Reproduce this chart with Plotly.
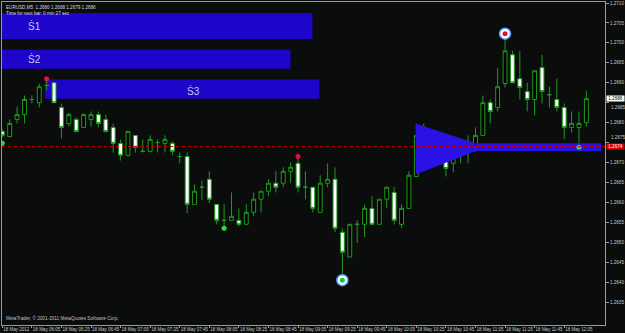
import plotly.graph_objects as go

# ---------------- data (EURUSD, M5, 18 May 2012, 05:45 .. 12:20) ----------------
bar_index = list(range(80))
opens = [1.26778, 1.26765, 1.26808, 1.26820, 1.26858, 1.26850, 1.26893, 1.26900, 1.26838, 1.26798,
         1.26808, 1.26788, 1.26808, 1.26820, 1.26808, 1.26788, 1.26748, 1.26718, 1.26768, 1.26728,
         1.26728, 1.26750, 1.26748, 1.26748, 1.26715, 1.26715, 1.26595, 1.26638, 1.26658, 1.26595,
         1.26555, 1.26555, 1.26555, 1.26545, 1.26575, 1.26608, 1.26628, 1.26648, 1.26648, 1.26678,
         1.26698, 1.26638, 1.26638, 1.26575, 1.26648, 1.26658, 1.26525, 1.26463, 1.26545, 1.26545,
         1.26585, 1.26545, 1.26608, 1.26625, 1.26545, 1.26585, 1.26665, 1.26758, 1.26768, 1.26738,
         1.26718, 1.26698, 1.26748, 1.26728, 1.26738, 1.26768, 1.26850, 1.26838, 1.26898, 1.26970,
         1.26910, 1.26878, 1.26858, 1.26938, 1.26870, 1.26858, 1.26838, 1.26788, 1.26788, 1.26800]
highs = [1.26783, 1.26808, 1.26840, 1.26868, 1.26868, 1.26898, 1.26905, 1.26900, 1.26848, 1.26825,
         1.26813, 1.26823, 1.26828, 1.26828, 1.26820, 1.26798, 1.26758, 1.26778, 1.26768, 1.26758,
         1.26768, 1.26758, 1.26768, 1.26753, 1.26725, 1.26725, 1.26645, 1.26655, 1.26678, 1.26595,
         1.26595, 1.26625, 1.26585, 1.26595, 1.26625, 1.26628, 1.26658, 1.26678, 1.26688, 1.26700,
         1.26710, 1.26678, 1.26638, 1.26668, 1.26698, 1.26688, 1.26535, 1.26545, 1.26555, 1.26595,
         1.26615, 1.26608, 1.26638, 1.26638, 1.26595, 1.26678, 1.26768, 1.26798, 1.26775, 1.26758,
         1.26738, 1.26748, 1.26758, 1.26768, 1.26788, 1.26868, 1.26858, 1.26938, 1.27010, 1.26980,
         1.26980, 1.26900, 1.26930, 1.26970, 1.26890, 1.26910, 1.26848, 1.26828, 1.26828, 1.26880]
lows = [1.26763, 1.26763, 1.26798, 1.26798, 1.26848, 1.26838, 1.26880, 1.26850, 1.26760, 1.26790,
        1.26775, 1.26788, 1.26790, 1.26788, 1.26775, 1.26725, 1.26705, 1.26715, 1.26725, 1.26725,
        1.26725, 1.26725, 1.26725, 1.26718, 1.26698, 1.26573, 1.26595, 1.26605, 1.26598, 1.26545,
        1.26540, 1.26555, 1.26540, 1.26545, 1.26565, 1.26575, 1.26615, 1.26625, 1.26638, 1.26648,
        1.26625, 1.26608, 1.26575, 1.26575, 1.26638, 1.26525, 1.26415, 1.26463, 1.26498, 1.26513,
        1.26545, 1.26545, 1.26585, 1.26545, 1.26535, 1.26585, 1.26665, 1.26725, 1.26725, 1.26698,
        1.26665, 1.26675, 1.26698, 1.26698, 1.26728, 1.26768, 1.26798, 1.26828, 1.26888, 1.26900,
        1.26858, 1.26828, 1.26818, 1.26848, 1.26838, 1.26828, 1.26758, 1.26775, 1.26745, 1.26790]
closes = [1.26768, 1.26798, 1.26820, 1.26858, 1.26858, 1.26890, 1.26893, 1.26850, 1.26788, 1.26820,
          1.26778, 1.26820, 1.26820, 1.26798, 1.26778, 1.26748, 1.26718, 1.26778, 1.26738, 1.26728,
          1.26758, 1.26750, 1.26758, 1.26728, 1.26715, 1.26595, 1.26628, 1.26638, 1.26608, 1.26555,
          1.26555, 1.26565, 1.26545, 1.26575, 1.26608, 1.26628, 1.26648, 1.26638, 1.26678, 1.26688,
          1.26638, 1.26638, 1.26585, 1.26648, 1.26658, 1.26535, 1.26475, 1.26545, 1.26545, 1.26585,
          1.26545, 1.26608, 1.26638, 1.26555, 1.26585, 1.26668, 1.26768, 1.26758, 1.26738, 1.26728,
          1.26685, 1.26738, 1.26718, 1.26738, 1.26768, 1.26850, 1.26828, 1.26890, 1.26980, 1.26900,
          1.26888, 1.26858, 1.26930, 1.26878, 1.26870, 1.26838, 1.26788, 1.26798, 1.26798, 1.26860]

time_tick_bars = [0, 4, 8, 12, 16, 20, 24, 28, 32, 36, 40, 44, 48, 52, 56, 60, 64, 68, 72, 76]
time_tick_labels = ["18 May 2012", "18 May 06:05", "18 May 06:25", "18 May 06:45", "18 May 07:05",
                    "18 May 07:25", "18 May 07:45", "18 May 08:05", "18 May 08:25", "18 May 08:45",
                    "18 May 09:05", "18 May 09:25", "18 May 09:45", "18 May 10:05", "18 May 10:25",
                    "18 May 10:45", "18 May 11:05", "18 May 11:25", "18 May 11:45", "18 May 12:05"]
price_ticks = [1.2635, 1.2640, 1.2645, 1.2650, 1.2655, 1.2660, 1.2665, 1.2670, 1.2675,
               1.2680, 1.2685, 1.2690, 1.2695, 1.2700, 1.2705, 1.2710]
# price labels that sit next to the marker boxes, drawn slightly nudged
crowded_ticks = [1.2685, 1.2675]
crowded_shift = [-5, 5]

# supply zones S1..S3
zone_names = ["Ṡ1", "Ṡ2", "Ṡ3"]
zone_x0 = [-1.0, -1.0, 5.75]
zone_x1 = [41.95, 38.99, 42.9]
zone_top = [1.27075, 1.26983, 1.26908]
zone_bottom = [1.27010, 1.26935, 1.26860]
zone_label_x = [4.3, 4.3, 25.8]
zone_label_y = [1.27043, 1.26960, 1.26880]

# converging pattern + band
pattern_x = [55.9, 64.0, 64.0, 55.9]
pattern_y = [1.26798, 1.26748, 1.26728, 1.26670]
band_x = [64.0, 80.98]
band_top = 1.26748
band_bottom = 1.26728

bid_line = 1.2674
last_price = 1.2686

fractal_high_x = [6, 40]
fractal_high_y = [1.2691, 1.26715]
fractal_low_x = [0, 30, 78]
fractal_low_y = [1.26748, 1.26535, 1.26738]
extreme_x = [46, 68]
extreme_y = [1.26405, 1.27023]
extreme_core = ["#12c83c", "#e0103c"]

# ---------------- figure ----------------
BG = "#0a0d0c"
AX = "#9a9a9a"
TXT = "#c8c8c8"
FONT = "Liberation Sans"

fig = go.Figure()

fig.add_trace(go.Scatter(x=pattern_x + [pattern_x[0]], y=pattern_y + [pattern_y[0]],
                         fill="toself", fillcolor="#2a12e6", line=dict(color="#2a12e6", width=0),
                         mode="lines", hoverinfo="skip", showlegend=False))
fig.add_trace(go.Scatter(x=[band_x[0], band_x[1], band_x[1], band_x[0], band_x[0]],
                         y=[band_top, band_top, band_bottom, band_bottom, band_top],
                         fill="toself", fillcolor="#2a12e6", line=dict(color="#2a12e6", width=0),
                         mode="lines", hoverinfo="skip", showlegend=False))

fig.add_trace(go.Candlestick(
    x=bar_index, open=opens, high=highs, low=lows, close=closes,
    increasing=dict(line=dict(color="#1f9a1f", width=1), fillcolor="#000000"),
    decreasing=dict(line=dict(color="#1f9a1f", width=1), fillcolor="#ffffff"),
    whiskerwidth=0, showlegend=False, hoverinfo="skip"))

fig.add_trace(go.Scatter(x=fractal_high_x, y=fractal_high_y, mode="markers",
                         marker=dict(color="#e8103c", size=5, symbol="circle"),
                         showlegend=False, hoverinfo="skip"))
fig.add_trace(go.Scatter(x=fractal_low_x, y=fractal_low_y, mode="markers",
                         marker=dict(color="#22dd44", size=5, symbol="circle"),
                         showlegend=False, hoverinfo="skip"))
fig.add_trace(go.Scatter(x=extreme_x, y=extreme_y, mode="markers",
                         marker=dict(color="#ffffff", size=11, symbol="circle",
                                     line=dict(color="#5a9cff", width=1.5)),
                         showlegend=False, hoverinfo="skip"))
fig.add_trace(go.Scatter(x=extreme_x, y=extreme_y, mode="markers",
                         marker=dict(color=extreme_core, size=5, symbol="circle"),
                         showlegend=False, hoverinfo="skip"))

shapes = []
for x0, x1, t, b in zip(zone_x0, zone_x1, zone_top, zone_bottom):
    shapes.append(dict(type="rect", xref="x", yref="y", x0=x0, x1=x1, y0=b, y1=t,
                       fillcolor="#1d05c9", line=dict(width=0), layer="below"))
shapes.append(dict(type="line", xref="paper", yref="y", x0=0, x1=1, y0=bid_line, y1=bid_line,
                   line=dict(color="#c00000", width=1, dash="dot"), layer="above"))

annotations = []
for name, lx, ly in zip(zone_names, zone_label_x, zone_label_y):
    annotations.append(dict(x=lx, y=ly, xref="x", yref="y", text=name, showarrow=False,
                            font=dict(family=FONT, size=10, color="#c8c8f4")))
annotations.append(dict(x=0.004, y=0.998, xref="paper", yref="paper", xanchor="left", yanchor="top",
                        text="EURUSD,M5  1.2680 1.2688 1.2679 1.2686<br>Time for next bar: 0 min 27 sec",
                        showarrow=False, align="left",
                        font=dict(family=FONT, size=4.6, color="#d8d8d8")))
annotations.append(dict(x=0.004, y=0.005, xref="paper", yref="paper", xanchor="left", yanchor="bottom",
                        text="MetaTrader, © 2001-2011 MetaQuotes Software Corp.",
                        showarrow=False, font=dict(family=FONT, size=4.7, color="#c0c0c0")))
for v, s in zip(crowded_ticks, crowded_shift):
    annotations.append(dict(x=1.0, y=v, xref="paper", yref="y", xanchor="left", yanchor="middle",
                            text=f"{v:.4f}", showarrow=False, xshift=4, yshift=s,
                            font=dict(family=FONT, size=4.6, color=TXT)))
annotations.append(dict(x=1.0, y=last_price, xref="paper", yref="y", xanchor="left", yanchor="middle",
                        text="1.2686", showarrow=False, bgcolor="#ffffff", borderpad=0, xshift=1,
                        font=dict(family=FONT, size=4.6, color="#000000"), width=17))
annotations.append(dict(x=1.0, y=bid_line, xref="paper", yref="y", xanchor="left", yanchor="middle",
                        text="1.2674", showarrow=False, bgcolor="#e00000", borderpad=0, xshift=1,
                        font=dict(family=FONT, size=4.6, color="#ffffff"), width=17))

price_text = ["" if v in crowded_ticks else f"{v:.4f}" for v in price_ticks]

fig.update_layout(
    width=625, height=333,
    margin=dict(l=1, r=18, t=1, b=8),
    paper_bgcolor=BG, plot_bgcolor=BG,
    shapes=shapes, annotations=annotations,
    showlegend=False, boxgap=0.25,
    xaxis=dict(range=[-0.04, 81.52], rangeslider=dict(visible=False),
               tickmode="array", tickvals=time_tick_bars, ticktext=time_tick_labels,
               ticklabelposition="outside right", tickangle=0,
               ticks="outside", ticklen=2, tickcolor=AX,
               showline=True, linecolor=AX, linewidth=1, mirror=True,
               showgrid=False, zeroline=False,
               tickfont=dict(family=FONT, size=4.5, color=TXT)),
    yaxis=dict(range=[1.262925, 1.271025], side="right",
               tickmode="array", tickvals=price_ticks, ticktext=price_text,
               ticks="outside", ticklen=3, tickcolor=AX,
               showline=True, linecolor=AX, linewidth=1, mirror=True,
               showgrid=False, zeroline=False,
               tickfont=dict(family=FONT, size=4.6, color=TXT)),
)

fig.write_html("out.html")
